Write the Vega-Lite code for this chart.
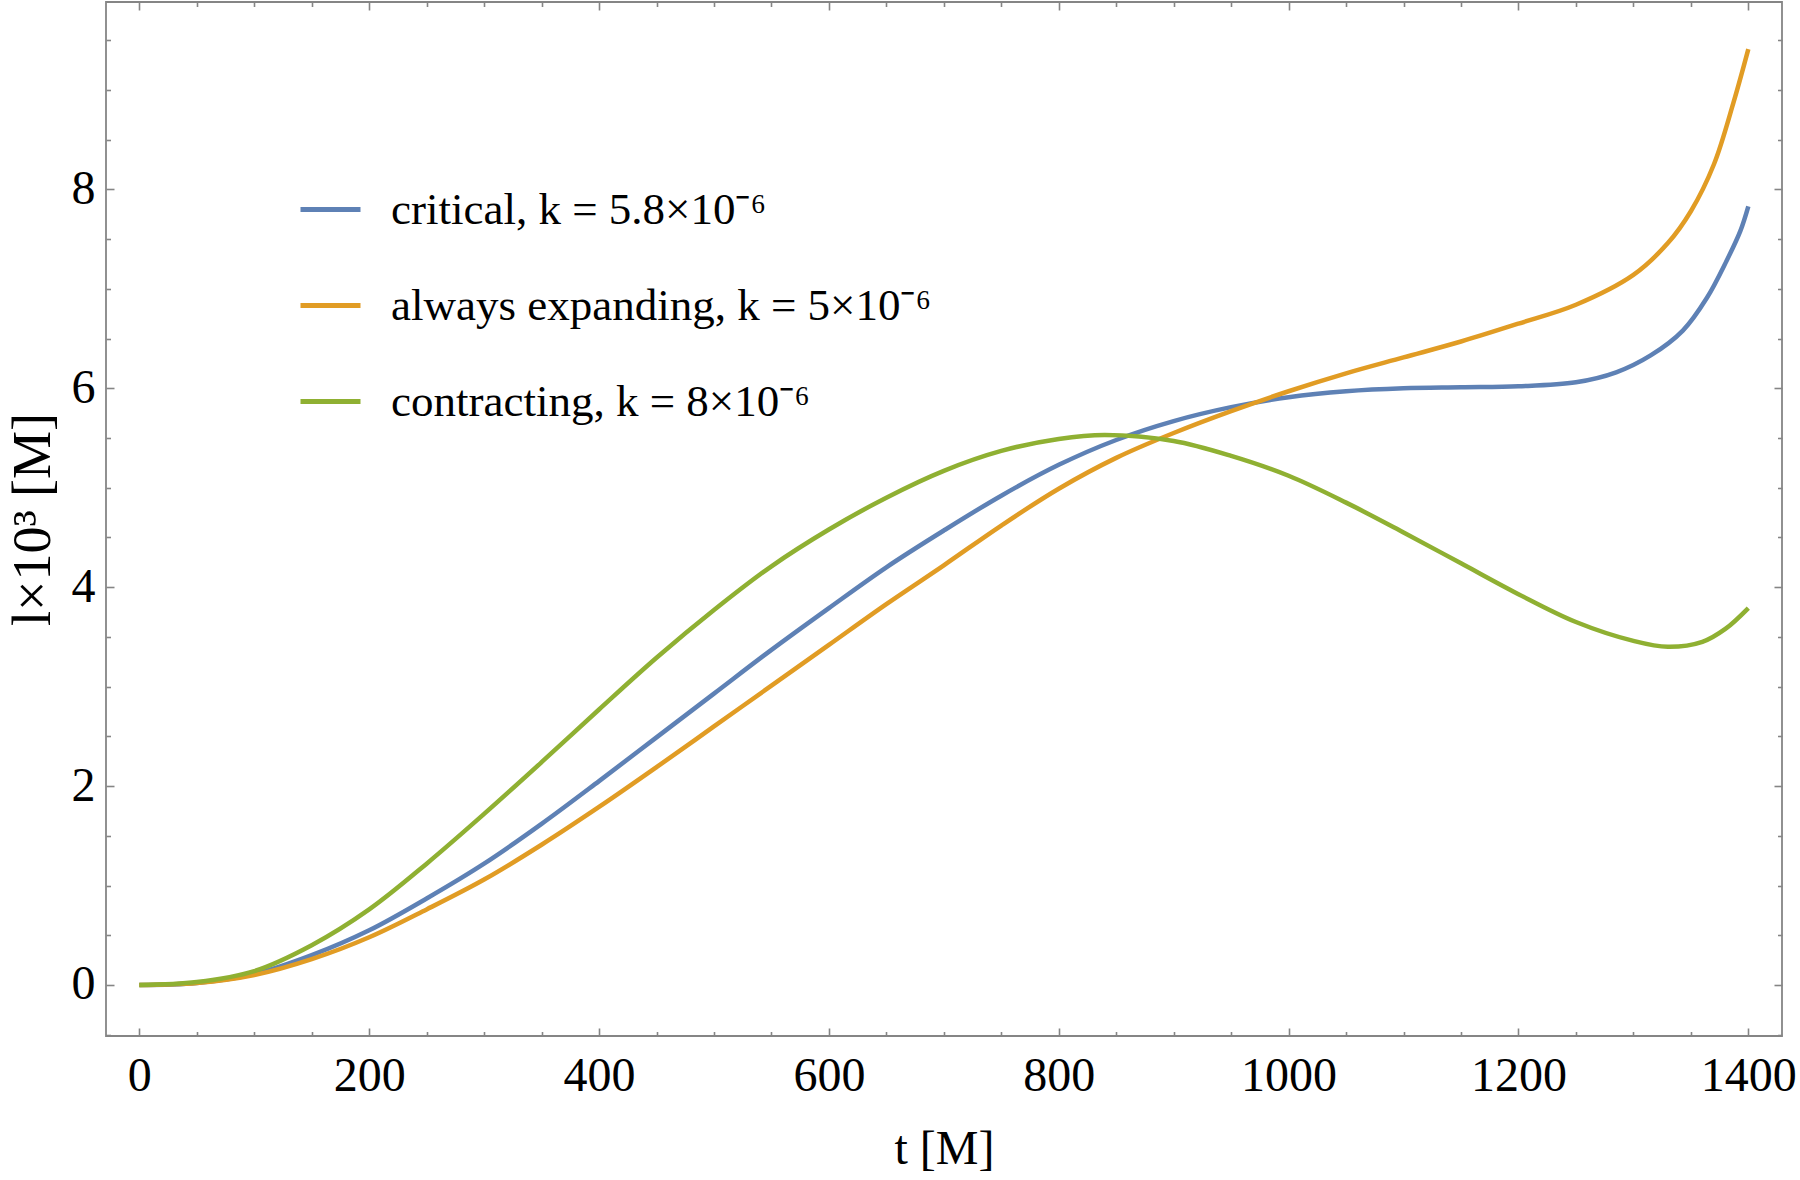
{
  "$schema": "https://vega.github.io/schema/vega-lite/v6.json",
  "width": 1676,
  "height": 1034,
  "autosize": {"type": "none"},
  "padding": {"left": 106, "top": 2, "right": 18, "bottom": 144},
  "background": "white",
  "config": {
    "font": "Liberation Serif",
    "view": {"stroke": "#858585", "strokeWidth": 1.8},
    "axis": {"grid": false, "labelColor": "black", "titleColor": "black", "titleFontWeight": "normal", "tickColor": "#858585", "tickWidth": 1.6, "labelFont": "Liberation Serif", "titleFont": "Liberation Serif"},
    "legend": {"labelFont": "Liberation Serif", "titleFont": "Liberation Serif"},
    "style": {"guide-label": {"font": "Liberation Serif"}, "guide-title": {"font": "Liberation Serif"}}
  },
  "data": {"values": [
    {"series": "critical, k = 5.8×10⁻⁶", "t": 0, "l": 0},
    {"series": "critical, k = 5.8×10⁻⁶", "t": 50, "l": 0.02},
    {"series": "critical, k = 5.8×10⁻⁶", "t": 100, "l": 0.11},
    {"series": "critical, k = 5.8×10⁻⁶", "t": 150, "l": 0.30},
    {"series": "critical, k = 5.8×10⁻⁶", "t": 200, "l": 0.55},
    {"series": "critical, k = 5.8×10⁻⁶", "t": 250, "l": 0.87},
    {"series": "critical, k = 5.8×10⁻⁶", "t": 300, "l": 1.22},
    {"series": "critical, k = 5.8×10⁻⁶", "t": 350, "l": 1.62},
    {"series": "critical, k = 5.8×10⁻⁶", "t": 400, "l": 2.05},
    {"series": "critical, k = 5.8×10⁻⁶", "t": 450, "l": 2.49},
    {"series": "critical, k = 5.8×10⁻⁶", "t": 500, "l": 2.93},
    {"series": "critical, k = 5.8×10⁻⁶", "t": 550, "l": 3.37},
    {"series": "critical, k = 5.8×10⁻⁶", "t": 600, "l": 3.79},
    {"series": "critical, k = 5.8×10⁻⁶", "t": 650, "l": 4.20},
    {"series": "critical, k = 5.8×10⁻⁶", "t": 700, "l": 4.57},
    {"series": "critical, k = 5.8×10⁻⁶", "t": 750, "l": 4.92},
    {"series": "critical, k = 5.8×10⁻⁶", "t": 800, "l": 5.23},
    {"series": "critical, k = 5.8×10⁻⁶", "t": 850, "l": 5.48},
    {"series": "critical, k = 5.8×10⁻⁶", "t": 900, "l": 5.67},
    {"series": "critical, k = 5.8×10⁻⁶", "t": 950, "l": 5.81},
    {"series": "critical, k = 5.8×10⁻⁶", "t": 1000, "l": 5.91},
    {"series": "critical, k = 5.8×10⁻⁶", "t": 1050, "l": 5.97},
    {"series": "critical, k = 5.8×10⁻⁶", "t": 1100, "l": 6.00},
    {"series": "critical, k = 5.8×10⁻⁶", "t": 1150, "l": 6.01},
    {"series": "critical, k = 5.8×10⁻⁶", "t": 1200, "l": 6.02},
    {"series": "critical, k = 5.8×10⁻⁶", "t": 1250, "l": 6.06},
    {"series": "critical, k = 5.8×10⁻⁶", "t": 1285, "l": 6.16},
    {"series": "critical, k = 5.8×10⁻⁶", "t": 1315, "l": 6.33},
    {"series": "critical, k = 5.8×10⁻⁶", "t": 1343, "l": 6.58},
    {"series": "critical, k = 5.8×10⁻⁶", "t": 1364, "l": 6.91},
    {"series": "critical, k = 5.8×10⁻⁶", "t": 1381, "l": 7.28},
    {"series": "critical, k = 5.8×10⁻⁶", "t": 1393, "l": 7.58},
    {"series": "critical, k = 5.8×10⁻⁶", "t": 1400, "l": 7.83},
    {"series": "always expanding, k = 5×10⁻⁶", "t": 0, "l": 0},
    {"series": "always expanding, k = 5×10⁻⁶", "t": 50, "l": 0.02},
    {"series": "always expanding, k = 5×10⁻⁶", "t": 100, "l": 0.10},
    {"series": "always expanding, k = 5×10⁻⁶", "t": 150, "l": 0.26},
    {"series": "always expanding, k = 5×10⁻⁶", "t": 200, "l": 0.48},
    {"series": "always expanding, k = 5×10⁻⁶", "t": 250, "l": 0.76},
    {"series": "always expanding, k = 5×10⁻⁶", "t": 300, "l": 1.06},
    {"series": "always expanding, k = 5×10⁻⁶", "t": 350, "l": 1.41},
    {"series": "always expanding, k = 5×10⁻⁶", "t": 400, "l": 1.79},
    {"series": "always expanding, k = 5×10⁻⁶", "t": 450, "l": 2.19},
    {"series": "always expanding, k = 5×10⁻⁶", "t": 500, "l": 2.60},
    {"series": "always expanding, k = 5×10⁻⁶", "t": 550, "l": 3.01},
    {"series": "always expanding, k = 5×10⁻⁶", "t": 600, "l": 3.42},
    {"series": "always expanding, k = 5×10⁻⁶", "t": 650, "l": 3.83},
    {"series": "always expanding, k = 5×10⁻⁶", "t": 700, "l": 4.22},
    {"series": "always expanding, k = 5×10⁻⁶", "t": 750, "l": 4.62},
    {"series": "always expanding, k = 5×10⁻⁶", "t": 800, "l": 4.99},
    {"series": "always expanding, k = 5×10⁻⁶", "t": 850, "l": 5.30},
    {"series": "always expanding, k = 5×10⁻⁶", "t": 900, "l": 5.55},
    {"series": "always expanding, k = 5×10⁻⁶", "t": 950, "l": 5.77},
    {"series": "always expanding, k = 5×10⁻⁶", "t": 1000, "l": 5.97},
    {"series": "always expanding, k = 5×10⁻⁶", "t": 1050, "l": 6.15},
    {"series": "always expanding, k = 5×10⁻⁶", "t": 1100, "l": 6.31},
    {"series": "always expanding, k = 5×10⁻⁶", "t": 1150, "l": 6.47},
    {"series": "always expanding, k = 5×10⁻⁶", "t": 1200, "l": 6.65},
    {"series": "always expanding, k = 5×10⁻⁶", "t": 1250, "l": 6.84},
    {"series": "always expanding, k = 5×10⁻⁶", "t": 1300, "l": 7.14},
    {"series": "always expanding, k = 5×10⁻⁶", "t": 1330, "l": 7.46},
    {"series": "always expanding, k = 5×10⁻⁶", "t": 1350, "l": 7.78},
    {"series": "always expanding, k = 5×10⁻⁶", "t": 1370, "l": 8.25},
    {"series": "always expanding, k = 5×10⁻⁶", "t": 1387, "l": 8.87},
    {"series": "always expanding, k = 5×10⁻⁶", "t": 1400, "l": 9.41},
    {"series": "contracting, k = 8×10⁻⁶", "t": 0, "l": 0},
    {"series": "contracting, k = 8×10⁻⁶", "t": 50, "l": 0.03},
    {"series": "contracting, k = 8×10⁻⁶", "t": 100, "l": 0.14},
    {"series": "contracting, k = 8×10⁻⁶", "t": 150, "l": 0.40},
    {"series": "contracting, k = 8×10⁻⁶", "t": 200, "l": 0.76},
    {"series": "contracting, k = 8×10⁻⁶", "t": 250, "l": 1.22},
    {"series": "contracting, k = 8×10⁻⁶", "t": 300, "l": 1.72},
    {"series": "contracting, k = 8×10⁻⁶", "t": 350, "l": 2.24},
    {"series": "contracting, k = 8×10⁻⁶", "t": 400, "l": 2.77},
    {"series": "contracting, k = 8×10⁻⁶", "t": 450, "l": 3.29},
    {"series": "contracting, k = 8×10⁻⁶", "t": 500, "l": 3.77},
    {"series": "contracting, k = 8×10⁻⁶", "t": 550, "l": 4.21},
    {"series": "contracting, k = 8×10⁻⁶", "t": 600, "l": 4.58},
    {"series": "contracting, k = 8×10⁻⁶", "t": 650, "l": 4.90},
    {"series": "contracting, k = 8×10⁻⁶", "t": 700, "l": 5.17},
    {"series": "contracting, k = 8×10⁻⁶", "t": 750, "l": 5.37},
    {"series": "contracting, k = 8×10⁻⁶", "t": 800, "l": 5.49},
    {"series": "contracting, k = 8×10⁻⁶", "t": 840, "l": 5.53},
    {"series": "contracting, k = 8×10⁻⁶", "t": 900, "l": 5.47},
    {"series": "contracting, k = 8×10⁻⁶", "t": 950, "l": 5.32},
    {"series": "contracting, k = 8×10⁻⁶", "t": 1000, "l": 5.12},
    {"series": "contracting, k = 8×10⁻⁶", "t": 1050, "l": 4.85},
    {"series": "contracting, k = 8×10⁻⁶", "t": 1100, "l": 4.55},
    {"series": "contracting, k = 8×10⁻⁶", "t": 1150, "l": 4.24},
    {"series": "contracting, k = 8×10⁻⁶", "t": 1200, "l": 3.93},
    {"series": "contracting, k = 8×10⁻⁶", "t": 1250, "l": 3.65},
    {"series": "contracting, k = 8×10⁻⁶", "t": 1300, "l": 3.46},
    {"series": "contracting, k = 8×10⁻⁶", "t": 1330, "l": 3.40},
    {"series": "contracting, k = 8×10⁻⁶", "t": 1360, "l": 3.45},
    {"series": "contracting, k = 8×10⁻⁶", "t": 1380, "l": 3.58},
    {"series": "contracting, k = 8×10⁻⁶", "t": 1400, "l": 3.79}
  ]},
  "resolve": {"axis": {"x": "independent", "y": "independent"}},
  "layer": [
    {
      "mark": {"type": "line", "strokeWidth": 4.5, "interpolate": "catmull-rom"},
      "encoding": {
        "x": {"field": "t", "type": "quantitative",
          "scale": {"domain": [-29, 1429.3], "nice": false, "zero": false},
          "axis": {"orient": "bottom", "values": [0, 200, 400, 600, 800, 1000, 1200, 1400], "format": "d", "ticks": false, "domain": false,
            "labelFontSize": 48, "labelPadding": 54, "labelBaseline": "alphabetic", "labelFlush": false, "labelOverlap": false,
            "title": "t [M]", "titleFontSize": 48, "titleBaseline": "alphabetic", "titleY": 127, "titleX": 838}},
        "y": {"field": "l", "type": "quantitative",
          "scale": {"domain": [-0.513, 9.884], "nice": false, "zero": false},
          "axis": {"orient": "left", "values": [0, 2, 4, 6, 8], "format": "d", "ticks": false, "domain": false,
            "labelFontSize": 48, "labelPadding": 11, "labelFlush": false, "labelOverlap": false,
            "title": "l×10³ [M]", "titleFontSize": 54, "titleBaseline": "alphabetic", "titleAngle": 270, "titleX": -57, "titleY": 517}},
        "color": {"field": "series", "type": "nominal",
          "scale": {"domain": ["critical, k = 5.8×10⁻⁶", "always expanding, k = 5×10⁻⁶", "contracting, k = 8×10⁻⁶"], "range": ["#5E81B5", "#E19C24", "#8FB032"]},
          "legend": {"orient": "none", "legendX": 192, "legendY": 175, "title": null, "padding": 0,
            "symbolType": "stroke", "symbolSize": 3600, "symbolStrokeWidth": 5,
            "labelFontSize": 45, "labelFont": "Liberation Serif", "labelColor": "black", "labelOffset": 28, "labelLimit": 1000, "rowPadding": 40,
            "encode": {"labels": {"update": {"font": {"value": "Liberation Serif"}, "fontSize": {"value": 45}}}}}}
      }
    },
    {
      "mark": {"type": "line", "strokeOpacity": 0},
      "encoding": {
        "x": {"field": "t", "type": "quantitative",
          "axis": {"orient": "bottom", "values": [0, 200, 400, 600, 800, 1000, 1200, 1400], "labels": false, "domain": false, "title": null, "tickSize": -8}},
        "y": {"field": "l", "type": "quantitative",
          "axis": {"orient": "left", "values": [0, 2, 4, 6, 8], "labels": false, "domain": false, "title": null, "tickSize": -8}}
      }
    },
    {
      "mark": {"type": "line", "strokeOpacity": 0},
      "encoding": {
        "x": {"field": "t", "type": "quantitative",
          "axis": {"orient": "bottom", "values": [50, 100, 150, 250, 300, 350, 450, 500, 550, 650, 700, 750, 850, 900, 950, 1050, 1100, 1150, 1250, 1300, 1350], "labels": false, "domain": false, "title": null, "tickSize": -4.5}},
        "y": {"field": "l", "type": "quantitative",
          "axis": {"orient": "left", "values": [-0.5, 0.5, 1, 1.5, 2.5, 3, 3.5, 4.5, 5, 5.5, 6.5, 7, 7.5, 8.5, 9, 9.5], "labels": false, "domain": false, "title": null, "tickSize": -4.5}}
      }
    },
    {
      "mark": {"type": "line", "strokeOpacity": 0},
      "encoding": {
        "x": {"field": "t", "type": "quantitative",
          "axis": {"orient": "top", "values": [0, 200, 400, 600, 800, 1000, 1200, 1400], "labels": false, "domain": false, "title": null, "tickSize": -8}},
        "y": {"field": "l", "type": "quantitative",
          "axis": {"orient": "right", "values": [0, 2, 4, 6, 8], "labels": false, "domain": false, "title": null, "tickSize": -8}}
      }
    },
    {
      "mark": {"type": "line", "strokeOpacity": 0},
      "encoding": {
        "x": {"field": "t", "type": "quantitative",
          "axis": {"orient": "top", "values": [50, 100, 150, 250, 300, 350, 450, 500, 550, 650, 700, 750, 850, 900, 950, 1050, 1100, 1150, 1250, 1300, 1350], "labels": false, "domain": false, "title": null, "tickSize": -4.5}},
        "y": {"field": "l", "type": "quantitative",
          "axis": {"orient": "right", "values": [-0.5, 0.5, 1, 1.5, 2.5, 3, 3.5, 4.5, 5, 5.5, 6.5, 7, 7.5, 8.5, 9, 9.5], "labels": false, "domain": false, "title": null, "tickSize": -4.5}}
      }
    }
  ]
}
